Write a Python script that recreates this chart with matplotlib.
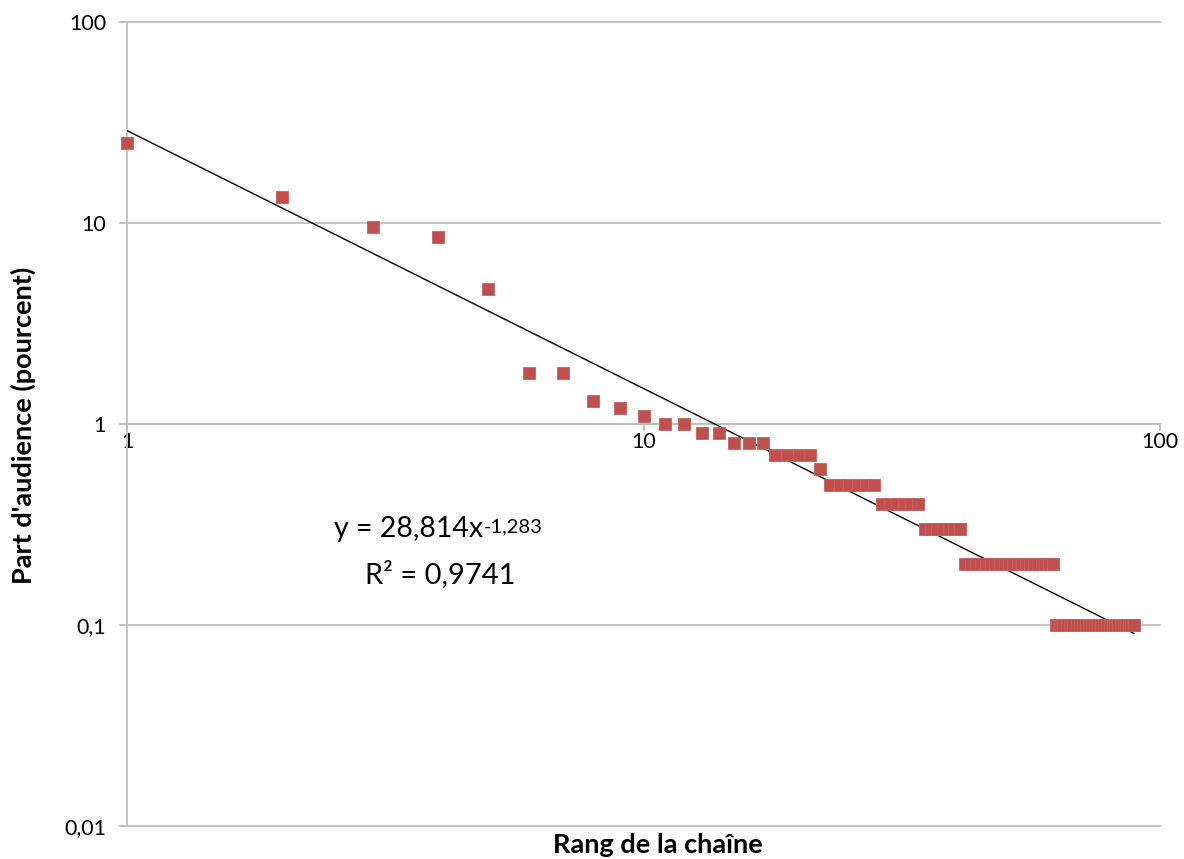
import matplotlib
matplotlib.use("Agg")
import matplotlib.pyplot as plt
import numpy as np
from matplotlib.ticker import FixedLocator, FixedFormatter, NullLocator

plt.rcParams['font.family'] = ['Lato', 'DejaVu Sans']

# Data: audience share (%) by channel rank
ranks = list(range(1, 90))
shares = ([25.0, 13.4, 9.6, 8.5, 4.7, 1.8, 1.8, 1.3, 1.2, 1.1, 1.0, 1.0,
           0.9, 0.9, 0.8, 0.8, 0.8]
          + [0.7] * 4 + [0.6] + [0.5] * 6 + [0.4] * 6 + [0.3] * 7
          + [0.2] * 21 + [0.1] * 27)

fit_a = 28.814
fit_b = -1.283
fit_x = [1, 89]

x_ticks = [1, 10, 100]
x_tick_labels = ["1", "10", "100"]
y_ticks = [0.01, 0.1, 1, 10, 100]
y_tick_labels = ["0,01", "0,1", "1", "10", "100"]

W, H = 1184, 859
fig = plt.figure(figsize=(W / 100, H / 100), dpi=100)
ax = fig.add_axes([127/W, 1 - 826/H, (1160-127)/W, (826-22)/H])
ax.set_xscale('log')
ax.set_yscale('log')
ax.set_xlim(1, 100)
ax.set_ylim(0.01, 100)

grid_c = '#BFBFBF'
for yv in y_ticks:
    ax.axhline(yv, color=grid_c, lw=1.3, zorder=1, xmin=-0.0068, clip_on=False)

fx = np.array(fit_x, dtype=float)
ax.plot(fx, fit_a * fx ** fit_b, color='black', lw=1.0, zorder=3)

ax.plot(ranks, shares, linestyle='none', marker='s', markersize=9.2,
        markerfacecolor='#C0504D', markeredgecolor='#C9605D', markeredgewidth=0.6,
        zorder=4, clip_on=False)

for s in ['top', 'right']:
    ax.spines[s].set_visible(False)
ax.spines['left'].set_color(grid_c)
ax.spines['left'].set_linewidth(1.3)
ax.spines['bottom'].set_position(('data', 1))
ax.spines['bottom'].set_color(grid_c)
ax.spines['bottom'].set_linewidth(1.3)

ax.xaxis.set_major_locator(FixedLocator(x_ticks))
ax.xaxis.set_major_formatter(FixedFormatter(x_tick_labels))
ax.xaxis.set_minor_locator(NullLocator())
ax.yaxis.set_major_locator(FixedLocator(y_ticks))
ax.yaxis.set_major_formatter(FixedFormatter(y_tick_labels))
ax.yaxis.set_minor_locator(NullLocator())
ax.tick_params(axis='both', which='major', direction='out', length=5, width=1.3,
               color=grid_c, labelsize=15.5, labelcolor='black')
ax.tick_params(axis='y', pad=10)
ax.tick_params(axis='x', pad=1)

fig.text(23/W, 1 - 425/H, "Part d'audience (pourcent)", rotation=90,
         fontsize=19.5, fontweight='bold', ha='center', va='center')
fig.text(658/W, 1 - 845/H, "Rang de la chaîne",
         fontsize=19.5, fontweight='bold', ha='center', va='center')

# Equation text with manual superscript
main = fig.text(334/W, 1 - 529/H, "y = 28,814x", fontsize=20.5, ha='left', va='center')
fig.canvas.draw()
bb = main.get_window_extent(renderer=fig.canvas.get_renderer())
fig.text((bb.x1 + 1) / W, (bb.y1 - 2) / H, "-1,283", fontsize=14.5,
         ha='left', va='top')
fig.text(440/W, 1 - 574/H, "R² = 0,9741", fontsize=21, ha='center', va='center')

fig.savefig('out.png', dpi=100)
